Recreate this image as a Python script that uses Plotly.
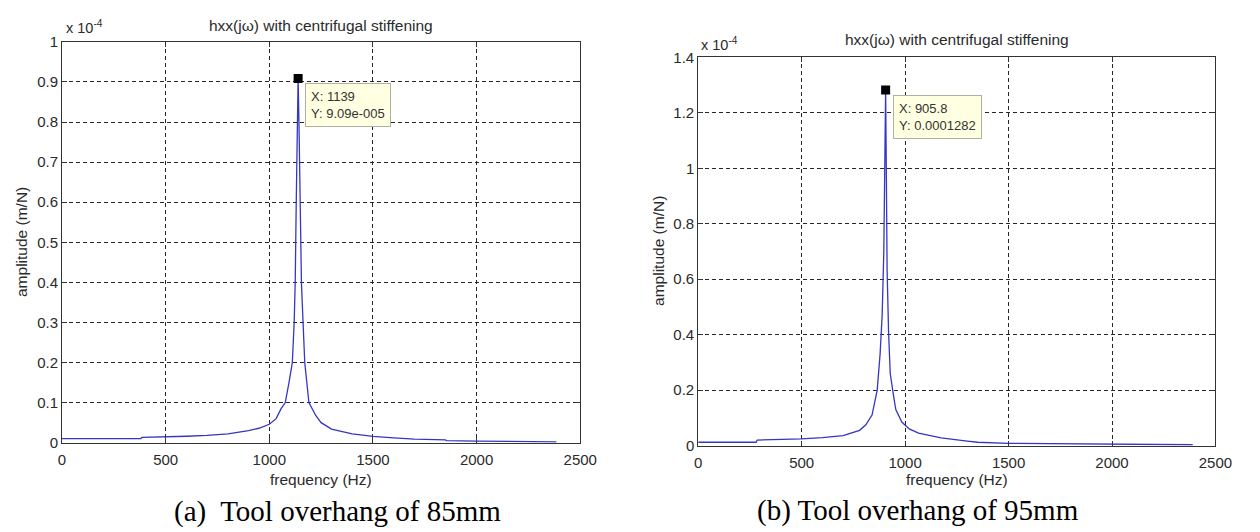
import plotly.graph_objects as go

# ---------------- data (amplitude in units of 1e-4 m/N) ----------------
freq_a = [0, 380, 385, 500, 600, 700, 800, 900, 950, 1000, 1033, 1057, 1077, 1095, 1111,
          1120, 1125, 1130, 1135, 1139, 1143, 1148, 1152, 1155, 1158, 1162, 1171,
          1191, 1205, 1224, 1250, 1300, 1400, 1500, 1600, 1700, 1850, 1855, 2000, 2200, 2385]
amp_a = [0.010, 0.010, 0.013, 0.014, 0.016, 0.018, 0.022, 0.030, 0.036, 0.046, 0.060,
         0.085, 0.100, 0.150, 0.200, 0.300, 0.400, 0.600, 0.850, 0.909, 0.800, 0.600, 0.450,
         0.400, 0.360, 0.300, 0.200, 0.100, 0.085, 0.068, 0.050, 0.034, 0.022, 0.016, 0.012,
         0.009, 0.007, 0.005, 0.004, 0.003, 0.002]

freq_b = [0, 280, 285, 500, 600, 700, 780, 810, 840, 865, 879, 889, 897, 902, 905.8, 909,
          913, 920, 928, 946, 955, 984, 1020, 1065, 1174, 1300, 1350, 1500, 1880, 1885, 2000, 2390]
amp_b = [0.012, 0.012, 0.020, 0.024, 0.029, 0.036, 0.055, 0.075, 0.110, 0.200, 0.330, 0.470,
         0.700, 1.100, 1.282, 1.000, 0.630, 0.410, 0.260, 0.170, 0.130, 0.085, 0.060, 0.045,
         0.028, 0.016, 0.012, 0.008, 0.006, 0.004, 0.004, 0.003]

peak_a = (1139, 0.909)
peak_b = (905.8, 1.282)
tip_a = "X: 1139<br>Y: 9.09e-005"
tip_b = "X: 905.8<br>Y: 0.0001282"

x_ticks = [0, 500, 1000, 1500, 2000, 2500]
y_ticks_a = [0, 0.1, 0.2, 0.3, 0.4, 0.5, 0.6, 0.7, 0.8, 0.9, 1.0]
y_labels_a = ["0", "0.1", "0.2", "0.3", "0.4", "0.5", "0.6", "0.7", "0.8", "0.9", "1"]
y_ticks_b = [0, 0.2, 0.4, 0.6, 0.8, 1.0, 1.2, 1.4]
y_labels_b = ["0", "0.2", "0.4", "0.6", "0.8", "1", "1.2", "1.4"]

title_txt = "hxx(jω) with centrifugal stiffening"
caption_a = "(a)\u00a0 Tool overhang of 85mm"
caption_b = "(b) Tool overhang of 95mm"

# ---------------- figure ----------------
W, H = 1260, 532
LINE = "#3535c6"
SANS = "Liberation Sans, Arial, sans-serif"
SERIF = "Liberation Serif, Times New Roman, serif"
TXT = "#2a2a2a"

fig = go.Figure()
fig.add_trace(go.Scatter(x=freq_a, y=amp_a, mode="lines", line=dict(color=LINE, width=1.3),
                         xaxis="x", yaxis="y", showlegend=False))
fig.add_trace(go.Scatter(x=freq_b, y=amp_b, mode="lines", line=dict(color=LINE, width=1.3),
                         xaxis="x2", yaxis="y2", showlegend=False))
fig.add_trace(go.Scatter(x=[peak_a[0]], y=[peak_a[1]], mode="markers",
                         marker=dict(symbol="square", size=9, color="black"),
                         xaxis="x", yaxis="y", showlegend=False))
fig.add_trace(go.Scatter(x=[peak_b[0]], y=[peak_b[1]], mode="markers",
                         marker=dict(symbol="square", size=9, color="black"),
                         xaxis="x2", yaxis="y2", showlegend=False))


def px(x):
    return x / W


def py(y):
    return 1 - y / H


axis_common = dict(
    showline=True, linecolor="#333333", linewidth=1, mirror="ticks",
    ticks="inside", ticklen=5, tickcolor="#333333",
    showgrid=True, gridcolor="#262626", gridwidth=1, griddash="4px,3px",
    zeroline=False, tickfont=dict(family=SANS, size=15, color=TXT),
)

fig.update_layout(
    width=W, height=H, margin=dict(l=0, r=0, t=0, b=0),
    paper_bgcolor="white", plot_bgcolor="white",
    xaxis=dict(domain=[px(59), px(586)], range=[0, 2500], tickvals=x_ticks,
               anchor="y", ticklabelstandoff=3, **axis_common),
    yaxis=dict(domain=[py(448), py(34)], range=[0, 1.0], tickvals=y_ticks_a,
               ticktext=y_labels_a, anchor="x", **axis_common),
    xaxis2=dict(domain=[px(706), px(1232)], range=[0, 2500], tickvals=x_ticks,
                anchor="y2", ticklabelstandoff=3, **axis_common),
    yaxis2=dict(domain=[py(451), py(50)], range=[0, 1.4], tickvals=y_ticks_b,
                ticktext=y_labels_b, anchor="x2", **axis_common),
)

ann = []


def text(x, y, s, size=15.5, family=SANS, color=TXT, angle=0, xanchor="center"):
    ann.append(dict(x=px(x), y=py(y), xref="paper", yref="paper", text=s, showarrow=False,
                    xanchor=xanchor, yanchor="middle", textangle=angle,
                    font=dict(family=family, size=size, color=color)))


# titles
text(322, 17, title_txt)
text(969, 32, title_txt)
# exponent labels
text(61, 19, "x 10<sup>-4</sup>", size=14.5, xanchor="left")
text(707, 36, "x 10<sup>-4</sup>", size=14.5, xanchor="left")
# axis labels
text(322, 486, "frequency (Hz)")
text(969, 486, "frequency (Hz)")
text(18, 241, "amplitude (m/N)", angle=-90)
text(665, 250, "amplitude (m/N)", angle=-90)
# captions
text(339, 519, caption_a, size=29, family=SERIF, color="black")
text(929, 518, caption_b, size=29, family=SERIF, color="black")

# data tips
for (pk, tip, xr, yr) in [(peak_a, tip_a, "x", "y"), (peak_b, tip_b, "x2", "y2")]:
    ann.append(dict(x=pk[0], y=pk[1], xref=xr, yref=yr, text=tip, showarrow=False,
                    xanchor="left", yanchor="top", xshift=7, yshift=-5, align="left",
                    bgcolor="#ffffe1", bordercolor="#b0b0a0", borderwidth=1, borderpad=5,
                    font=dict(family=SANS, size=13, color="#333333")))

fig.update_layout(annotations=ann)
fig.write_html("out.html")
